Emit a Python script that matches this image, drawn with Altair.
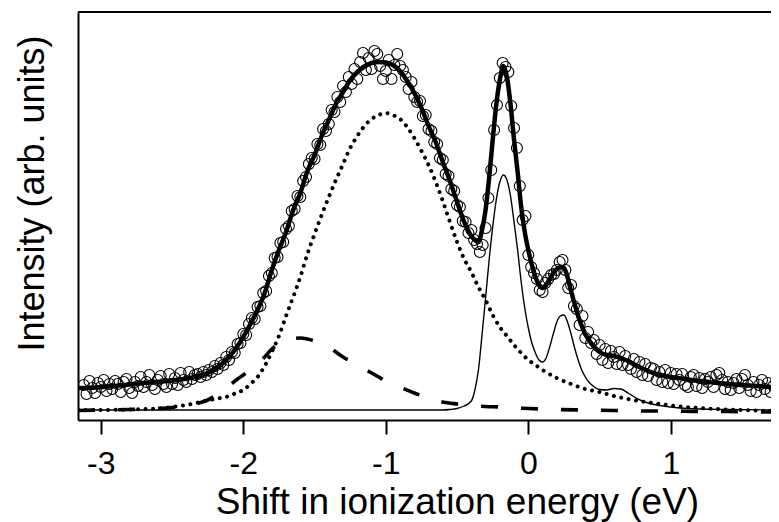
import altair as alt
import pandas as pd

# ---------------- data ----------------
tick_values = [-3, -2, -1, 0, 1]

# total fit (thick solid line)
fit_x = [-3.16, -3.1, -3.0, -2.9, -2.8, -2.7, -2.6, -2.5, -2.4, -2.3,
         -2.25, -2.2, -2.15, -2.1, -2.05, -2.0, -1.95, -1.9, -1.85, -1.8,
         -1.75, -1.7, -1.65, -1.6, -1.55, -1.5, -1.45, -1.4, -1.35, -1.3,
         -1.25, -1.2, -1.15, -1.1, -1.05, -1.0, -0.95, -0.9, -0.85, -0.8,
         -0.75, -0.7, -0.65, -0.6, -0.55, -0.5, -0.45, -0.4,
         -0.375, -0.35, -0.325, -0.3, -0.275, -0.25, -0.225, -0.2, -0.175, -0.15,
         -0.125, -0.1, -0.075, -0.05, -0.025, 0.0, 0.025, 0.05, 0.075, 0.1,
         0.125, 0.15, 0.175, 0.2, 0.225, 0.25, 0.275, 0.3, 0.325, 0.35,
         0.375, 0.4, 0.425, 0.45,
         0.5, 0.55, 0.6, 0.65, 0.7, 0.75, 0.8,
         0.9, 1.0, 1.1, 1.2, 1.3, 1.4, 1.5, 1.6, 1.7, 1.76]
fit_y = [22, 22, 23, 24, 25.5, 27, 28, 29.5, 31.5, 34.5,
         37, 41, 46, 53, 62, 73, 86, 100, 117, 140,
         160, 178, 200, 217, 239, 255, 274, 290, 306, 318,
         330, 338, 343.5, 347, 348, 347.5, 345, 339, 329, 317,
         302, 284, 268, 248, 229, 208, 188, 174,
         170, 168, 180, 200, 232, 270, 305, 330, 344, 333,
         306, 270, 238, 203, 178, 160, 145, 133, 125, 122,
         125, 131, 137, 141, 143, 142, 133, 119, 106, 94,
         84, 76, 70, 65,
         58, 55, 54, 52, 49, 45, 41.5,
         36, 33, 31, 29, 27.5, 26, 25, 24, 23, 22.5]

# broad component (dotted)
dotted_x = [-3.16, -3.0, -2.8, -2.6, -2.5, -2.4, -2.3, -2.2, -2.1, -2.05,
            -2.0, -1.95, -1.9, -1.85, -1.8, -1.75, -1.7, -1.65, -1.6, -1.55,
            -1.5, -1.45, -1.4, -1.35, -1.3, -1.25, -1.2, -1.15, -1.1, -1.05,
            -1.0, -0.95, -0.9, -0.85, -0.8, -0.75, -0.7, -0.65, -0.6, -0.55,
            -0.5, -0.45, -0.4, -0.35, -0.3, -0.25, -0.2, -0.15, -0.1, -0.05,
            0.0, 0.05, 0.1, 0.2, 0.3, 0.4, 0.5, 0.6, 0.7, 0.8,
            0.9, 1.0, 1.2, 1.4, 1.6, 1.76]
dotted_y = [0, 0, 0.5, 1.5, 3, 5, 8, 11, 14, 17,
            20, 26, 33, 44, 58, 74, 94, 113, 133, 156,
            176, 195, 213, 230, 246, 262, 274, 284, 291, 295,
            297, 295, 291, 283, 272, 259, 245, 228, 209, 188,
            168, 151, 138, 123, 110, 95, 83, 74, 65, 57,
            50, 45, 40, 32, 26, 21, 18, 14, 11, 8.5,
            6.5, 4.5, 2, 0.5, -0.5, -1]

# low-energy component (dashed)
dashed_x = [-3.16, -3.0, -2.8, -2.6, -2.5, -2.4, -2.3, -2.25, -2.2, -2.15,
            -2.1, -2.05, -2.0, -1.95, -1.9, -1.85, -1.8, -1.75, -1.7, -1.65,
            -1.6, -1.55, -1.5, -1.45, -1.4, -1.35, -1.3, -1.25, -1.2, -1.15,
            -1.1, -1.05, -1.0, -0.9, -0.8, -0.7, -0.6, -0.5, -0.4, -0.3,
            -0.2, -0.1, 0.0, 0.2, 0.4, 0.6, 0.8, 1.0, 1.2, 1.4,
            1.6, 1.76]
dashed_y = [-0.5, 0, 0.5, 1.5, 2.5, 4.5, 7.5, 10, 14, 18,
            24, 30, 35, 40, 46, 53, 61, 66, 69.5, 71.5,
            72, 71, 69, 66, 63, 58, 53, 49, 45, 41,
            37, 33, 29, 23, 17, 12, 8, 6, 4.5, 3.5,
            3, 2, 1.5, 0.5, 0, -0.5, -1, -1, -1.5, -1.5,
            -2, -2]

# narrow vibrational component (thin solid)
thin_x = [-3.16, -1.0, -0.6, -0.55, -0.5, -0.45, -0.4, -0.375, -0.35, -0.325,
          -0.3, -0.275, -0.25, -0.225, -0.2, -0.175, -0.15, -0.125, -0.1, -0.075,
          -0.05, -0.025, 0.0, 0.025, 0.05, 0.075, 0.1, 0.125, 0.15, 0.175,
          0.2, 0.225, 0.25, 0.275, 0.3, 0.325, 0.35, 0.375, 0.4, 0.425,
          0.45, 0.5, 0.55, 0.6, 0.65, 0.7, 0.75, 0.8, 0.9, 1.0,
          1.2, 1.4, 1.76]
thin_y = [0, 0, 0, 0.5, 1.5, 4, 9, 20, 40, 75,
          112, 150, 183, 210, 228, 235, 230, 214, 188, 160,
          128, 102, 82, 67, 57, 50, 48, 52, 63, 76,
          88, 94, 95, 88, 76, 62, 50, 40, 33, 28,
          24.5, 20.5, 20, 21.5, 21, 17, 12.5, 9, 5, 3,
          1, 0.5, 0]

# measured spectrum (open circles)
data_x = [-3.12, -3.10, -3.08, -3.06, -3.04, -3.02, -3.00, -2.98, -2.96, -2.94,
          -2.92, -2.90, -2.88, -2.86, -2.84, -2.82, -2.80, -2.78, -2.76, -2.74,
          -2.72, -2.70, -2.68, -2.66, -2.64, -2.62, -2.60, -2.58, -2.56, -2.54,
          -2.52, -2.50, -2.48, -2.46, -2.44, -2.42, -2.40, -2.38, -2.36, -2.34,
          -2.32, -2.30, -2.28, -2.26, -2.24, -2.22, -2.20, -2.18, -2.16, -2.14,
          -2.12, -2.10, -2.08, -2.06, -2.04, -2.02, -2.00, -1.98, -1.96, -1.94,
          -1.92, -1.90, -1.88, -1.86, -1.84, -1.82, -1.80, -1.78, -1.76, -1.74,
          -1.72, -1.70, -1.68, -1.66, -1.64, -1.62, -1.60, -1.58, -1.56, -1.54,
          -1.52, -1.50, -1.48, -1.46, -1.44, -1.42, -1.40, -1.38, -1.36, -1.34,
          -1.32, -1.30, -1.28, -1.26, -1.24, -1.22, -1.20, -1.18, -1.16, -1.14,
          -1.12, -1.10, -1.08, -1.06, -1.04, -1.02, -1.00, -0.98, -0.96, -0.94,
          -0.92, -0.90, -0.88, -0.86, -0.84, -0.82, -0.80, -0.78, -0.76, -0.74,
          -0.72, -0.70, -0.68, -0.66, -0.64, -0.62, -0.60, -0.58, -0.56, -0.54,
          -0.52, -0.50, -0.48, -0.46, -0.44, -0.42, -0.40, -0.38, -0.36, -0.34,
          -0.32, -0.30, -0.28, -0.26, -0.24, -0.22, -0.20, -0.18, -0.16, -0.14,
          -0.12, -0.10, -0.08, -0.06, -0.04, -0.02, 0.00, 0.02, 0.04, 0.06,
          0.08, 0.10, 0.12, 0.14, 0.16, 0.18, 0.20, 0.22, 0.24, 0.26,
          0.28, 0.30, 0.32, 0.34, 0.36, 0.38, 0.40, 0.42, 0.44, 0.46,
          0.48, 0.50, 0.52, 0.54, 0.56, 0.58, 0.60, 0.62, 0.64, 0.66,
          0.68, 0.70, 0.72, 0.74, 0.76, 0.78, 0.80, 0.82, 0.84, 0.86,
          0.88, 0.90, 0.92, 0.94, 0.96, 0.98, 1.00, 1.02, 1.04, 1.06,
          1.08, 1.10, 1.12, 1.14, 1.16, 1.18, 1.20, 1.22, 1.24, 1.26,
          1.28, 1.30, 1.32, 1.34, 1.36, 1.38, 1.40, 1.42, 1.44, 1.46,
          1.48, 1.50, 1.52, 1.54, 1.56, 1.58, 1.60, 1.62, 1.64, 1.66,
          1.68, 1.70, 1.72, 1.74, 1.76]
data_y = [25, 16, 29, 22, 17, 27, 23, 30, 19, 26,
          21, 29, 26, 18, 28, 31, 22, 17, 28, 24,
          33, 23, 28, 35, 25, 21, 30, 34, 26, 23,
          36, 26, 32, 25, 37, 30, 28, 38, 31, 35,
          36, 33, 38, 35, 40, 38, 44, 41, 47, 45,
          53, 50, 58, 57, 66, 67, 76, 75, 86, 92,
          91, 103, 104, 117, 119, 134, 137, 152, 153, 167,
          168, 181, 184, 199, 201, 214, 213, 229, 233, 246,
          252, 251, 266, 265, 281, 279, 286, 300, 298, 313,
          308, 324, 318, 333, 326, 341, 331, 348, 357, 340,
          352, 341, 359, 356, 344, 331, 339, 350, 331, 345,
          356, 344, 340, 333, 321, 328, 313, 308, 309, 294,
          295, 281, 279, 268, 266, 252, 250, 236, 234, 221,
          219, 205, 203, 189, 188, 177, 180, 170, 166, 158,
          165, 182, 212, 240, 280, 305, 332, 347, 343, 338,
          304, 282, 262, 224, 190, 194, 155, 143, 137, 131,
          120, 118, 127, 131, 135, 136, 140, 148, 150, 140,
          122, 125, 104, 101, 85, 94, 72, 78, 67, 70,
          56, 65, 50, 61, 47, 59, 53, 46, 58, 45,
          54, 45, 41, 51, 38, 48, 35, 46, 34, 42,
          41, 30, 38, 28, 40, 27, 37, 26, 36, 30,
          36, 25, 23, 33, 35, 24, 32, 22, 31, 28,
          33, 23, 35, 37, 30, 21, 28, 20, 27, 31,
          22, 31, 35, 25, 19, 28, 18, 25, 30, 21,
          27, 18, 24, 29, 20]

# ---------------- chart ----------------
W, H = 693, 408
FONT = "Liberation Sans"

xscale = alt.Scale(domain=[-3.16, 1.703], nice=False, zero=False)
yscale = alt.Scale(domain=[-10, 398], nice=False, zero=False)

xaxis = alt.Axis(
    title="Shift in ionization energy (eV)",
    values=tick_values, labelExpr="'' + datum.value",
    tickSize=14, tickWidth=2, tickColor="black",
    domainColor="black", domainWidth=2, grid=False,
    labelFont=FONT, labelFontSize=32, labelColor="black", labelPadding=14,
    labelFlush=False,
    titleFont=FONT, titleFontSize=37, titleFontWeight="normal", titleColor="black",
    titleX=379, titleY=93, titleBaseline="alphabetic", titleAlign="center",
)
yaxis = alt.Axis(
    title="Intensity (arb. units)",
    labels=False, ticks=False, grid=False,
    domainColor="black", domainWidth=2,
    titleFont=FONT, titleFontSize=36, titleFontWeight="normal", titleColor="black",
    titleX=-35, titleY=181, titleAngle=270, titleBaseline="alphabetic",
    titleAlign="center",
)

X = alt.X("x:Q", scale=xscale, axis=xaxis)
Y = alt.Y("y:Q", scale=yscale, axis=yaxis)

df_data = pd.DataFrame({"x": data_x, "y": data_y})
df_fit = pd.DataFrame({"x": fit_x, "y": fit_y})
df_dot = pd.DataFrame({"x": dotted_x, "y": dotted_y})
df_dash = pd.DataFrame({"x": dashed_x, "y": dashed_y})
df_thin = pd.DataFrame({"x": thin_x, "y": thin_y})

circles = alt.Chart(df_data).mark_point(
    shape="circle", filled=False, size=120, stroke="black", strokeWidth=1.1,
    opacity=1, clip=True
).encode(x=X, y=Y)

thin = alt.Chart(df_thin).mark_line(
    color="black", strokeWidth=1.4, interpolate="monotone", clip=True
).encode(x=X, y=Y)

dotted = alt.Chart(df_dot).mark_line(
    color="black", strokeWidth=4, strokeDash=[0.01, 7.5], strokeCap="round",
    interpolate="monotone", clip=True
).encode(x=X, y=Y)

dashed = alt.Chart(df_dash).mark_line(
    color="black", strokeWidth=3.6, strokeDash=[17, 23],
    interpolate="monotone", clip=True
).encode(x=X, y=Y)

fit = alt.Chart(df_fit).mark_line(
    color="black", strokeWidth=4.5, interpolate="monotone", clip=True
).encode(x=X, y=Y)

top_rule = alt.Chart(df_fit).mark_rule(color="black", strokeWidth=2).encode(
    x=alt.value(0), x2=alt.value(W), y=alt.value(0)
)

chart = (
    alt.layer(circles, thin, dotted, dashed, fit, top_rule)
    .properties(
        width=W, height=H,
        autosize=alt.AutoSizeParams(type="none"),
        padding={"left": 70, "top": 4, "right": 0, "bottom": 102},
    )
    .configure(background="white")
    .configure_view(stroke=None)
)

chart.save("out.html", embed_options={"renderer": "svg", "actions": False})
